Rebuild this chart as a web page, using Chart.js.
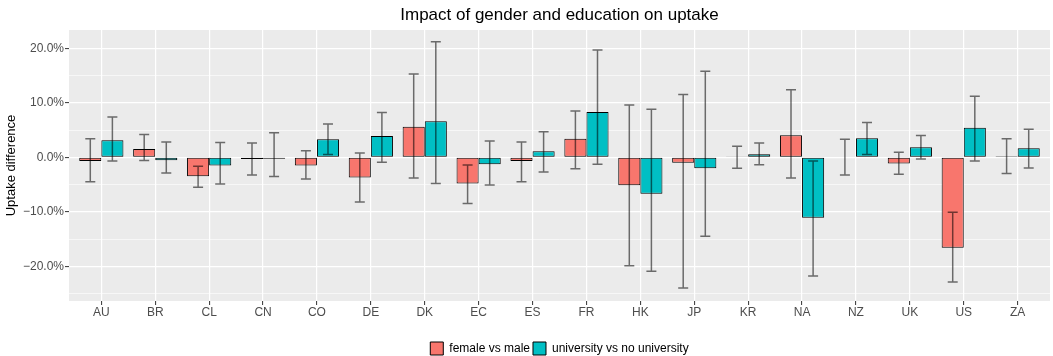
<!DOCTYPE html>
<html>
<head>
<meta charset="utf-8">
<script src="https://cdn.jsdelivr.net/npm/chart.js@4.4.1/dist/chart.umd.min.js"></script>
<style>
  html, body { margin: 0; padding: 0; background: #fff; }
  #wrap { width: 1053px; height: 356px; }
</style>
</head>
<body>
<div id="wrap"><canvas id="chart" width="1053" height="356"></canvas></div>
<script>
// dados (em %)
const countries = ["AU", "BR", "CL", "CN", "CO", "DE", "DK", "EC", "ES", "FR", "HK", "JP", "KR", "NA", "NZ", "UK", "US", "ZA"];

const femaleVsMale = [-0.7, 1.5, -3.5, -0.3, -1.5, -3.7, 5.6, -4.8, -0.7, 3.4, -5.15, -1.0, 0.05, 4.05, -0.1, -1.15, -16.6, 0.2];
const femaleLow    = [-4.5, -0.6, -5.5, -3.25, -4.0, -8.2, -3.8, -8.5, -4.5, -2.1, -19.9, -24.0, -2.0, -3.8, -3.25, -3.1, -22.9, -3.0];
const femaleHigh   = [3.4, 4.2, -1.65, 2.6, 1.2, 0.8, 15.3, -1.4, 2.8, 8.5, 9.6, 11.5, 2.0, 12.4, 3.3, 0.9, -10.1, 3.4];

const uniVsNoUni = [3.1, -0.55, -1.5, -0.25, 3.3, 3.9, 6.6, -1.3, 1.1, 8.3, -6.7, -2.0, 0.55, -11.1, 3.5, 1.85, 5.4, 1.65];
const uniLow     = [-0.7, -2.9, -4.9, -3.55, 0.5, -0.9, -4.8, -5.1, -2.7, -1.3, -20.9, -14.5, -1.35, -21.8, 0.5, -0.3, -0.7, -1.95];
const uniHigh    = [7.4, 2.8, 2.7, 4.5, 6.1, 8.2, 21.2, 3.0, 4.7, 19.7, 8.8, 15.8, 2.6, -0.7, 6.4, 4.0, 11.2, 5.15];

const seriesNames = ["female vs male", "university vs no university"];
const chartTitle = "Impact of gender and education on uptake";
const yTitle = "Uptake difference";

const FONT = "'Liberation Sans', Arial, sans-serif";

// fundo cinza do painel (estilo ggplot)
const panelBg = {
    id: "panelBg",
    beforeDraw(chart) {
        const { ctx, chartArea: a } = chart;
        ctx.save();
        ctx.fillStyle = "#EBEBEB";
        ctx.fillRect(a.left, a.top, a.right - a.left, a.bottom - a.top);
        ctx.restore();
    }
};

// barras de erro
const errorBars = {
    id: "errorBars",
    afterDatasetsDraw(chart) {
        const { ctx } = chart;
        const y = chart.scales.y;
        chart.data.datasets.forEach((ds, di) => {
            const meta = chart.getDatasetMeta(di);
            meta.data.forEach((bar, i) => {
                const top = y.getPixelForValue(ds.errHigh[i]);
                const bot = y.getPixelForValue(ds.errLow[i]);
                const half = 5;
                ctx.save();
                ctx.strokeStyle = "rgba(0,0,0,0.55)";
                ctx.lineWidth = 1.5;
                ctx.beginPath();
                ctx.moveTo(bar.x, top);
                ctx.lineTo(bar.x, bot);
                ctx.moveTo(bar.x - half, top);
                ctx.lineTo(bar.x + half, top);
                ctx.moveTo(bar.x - half, bot);
                ctx.lineTo(bar.x + half, bot);
                ctx.stroke();
                ctx.restore();
            });
        });
    }
};

const ctx = document.getElementById("chart").getContext("2d");

new Chart(ctx, {
    type: "bar",
    data: {
        datasets: [
            {
                label: seriesNames[0],
                data: countries.map((c, i) => ({ x: i, y: femaleVsMale[i] })),
                errLow: femaleLow,
                errHigh: femaleHigh,
                backgroundColor: "#F8766D",
                borderColor: "#000",
                borderWidth: 1,
                borderSkipped: false
            },
            {
                label: seriesNames[1],
                data: countries.map((c, i) => ({ x: i, y: uniVsNoUni[i] })),
                errLow: uniLow,
                errHigh: uniHigh,
                backgroundColor: "#00BFC4",
                borderColor: "#000",
                borderWidth: 1,
                borderSkipped: false
            }
        ]
    },
    options: {
        responsive: false,
        animation: false,
        categoryPercentage: 0.82,
        barPercentage: 1,
        layout: { padding: { left: 0, right: 3, top: 0, bottom: -9 } },
        scales: {
            x: {
                type: "linear",
                min: -0.6,
                max: 17.6,
                offset: false,
                afterFit(scale) { scale.height = 38; },
                grid: {
                    offset: false,
                    color: "#fff",
                    lineWidth: 1.2,
                    tickColor: "#333",
                    tickWidth: 1,
                    tickLength: 4,
                    drawTicks: true
                },
                border: { display: false },
                ticks: {
                    stepSize: 1,
                    includeBounds: false,
                    autoSkip: false,
                    maxRotation: 0,
                    padding: 0,
                    color: "#4D4D4D",
                    font: { family: FONT, size: 12 },
                    callback: v => countries[v] ?? ""
                }
            },
            y: {
                min: -26.37,
                max: 23.35,
                afterFit(scale) { scale.width = 69; },
                grid: {
                    color: "#fff",
                    lineWidth: c => (c.tick && c.tick.value % 10 === 0) ? 1.2 : 0.6,
                    tickColor: c => (c.tick && c.tick.value % 10 === 0) ? "#333" : "rgba(0,0,0,0)",
                    tickWidth: 1,
                    tickLength: 4,
                    drawTicks: true
                },
                border: { display: false },
                ticks: {
                    stepSize: 5,
                    includeBounds: false,
                    padding: 1,
                    color: "#4D4D4D",
                    font: { family: FONT, size: 12 },
                    callback: v => v % 10 === 0 ? (v < 0 ? "\u2212" : "") + Math.abs(v).toFixed(1) + "%" : ""
                },
                title: {
                    display: true,
                    text: yTitle,
                    color: "#000",
                    font: { family: FONT, size: 13 },
                    padding: { top: 4, bottom: 0 }
                }
            }
        },
        plugins: {
            title: {
                display: true,
                fullSize: false,
                text: chartTitle,
                color: "#000",
                font: { family: FONT, size: 17, weight: "normal" },
                padding: { top: 5, bottom: 4.6 }
            },
            legend: {
                position: "bottom",
                fullSize: false,
                labels: {
                    boxWidth: 13,
                    boxHeight: 13,
                    padding: 3,
                    color: "#000",
                    font: { family: FONT, size: 12 }
                }
            },
            tooltip: { enabled: false }
        }
    },
    plugins: [panelBg, errorBars]
});
</script>
</body>
</html>
